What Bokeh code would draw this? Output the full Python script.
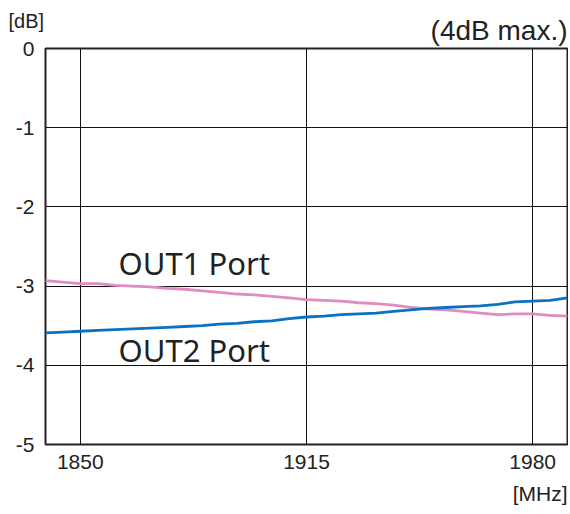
from bokeh.plotting import figure
from bokeh.models import Range1d, FixedTicker, Label, Title
from bokeh.embed import file_html
from bokeh.resources import INLINE

freq = [1840, 1845, 1850, 1855, 1860, 1865, 1870, 1875, 1880, 1885, 1890, 1895, 1900, 1905, 1910,
        1915, 1920, 1925, 1930, 1935, 1940, 1945, 1950, 1955, 1960, 1965, 1970, 1975, 1980, 1985, 1990]
out1 = [-2.93, -2.95, -2.97, -2.97, -2.99, -3.00, -3.01, -3.03, -3.04, -3.06, -3.08, -3.10, -3.11, -3.13, -3.15,
        -3.17, -3.18, -3.19, -3.21, -3.22, -3.24, -3.27, -3.29, -3.30, -3.32, -3.34, -3.36, -3.35, -3.35, -3.37, -3.38]
out2 = [-3.59, -3.58, -3.57, -3.56, -3.55, -3.54, -3.53, -3.52, -3.51, -3.50, -3.48, -3.47, -3.45, -3.44, -3.41,
        -3.39, -3.38, -3.36, -3.35, -3.34, -3.32, -3.30, -3.28, -3.27, -3.26, -3.25, -3.23, -3.20, -3.19, -3.18, -3.15]
x_ticks = [1850, 1915, 1980]
y_ticks = [0, -1, -2, -3, -4, -5]
y_tick_labels = ["0", "-1", "-2", "-3", "-4", "-5"]

FONT = "Liberation Sans"
TXT = "#222222"

p = figure(width=568, height=512, output_backend="svg", toolbar_location=None,
           x_range=Range1d(1840, 1990), y_range=Range1d(-5, 0),
           min_border_left=45, min_border_right=1, min_border_top=48, min_border_bottom=68)
p.outline_line_color = "#222222"
p.outline_line_width = 2
p.background_fill_color = "white"
p.border_fill_color = "white"

p.xaxis.ticker = FixedTicker(ticks=x_ticks)
p.yaxis.ticker = FixedTicker(ticks=y_ticks)
p.yaxis.major_label_overrides = {t: s for t, s in zip(y_ticks, y_tick_labels)}
for ax in (p.xaxis, p.yaxis):
    ax.axis_line_color = None
    ax.major_tick_line_color = None
    ax.minor_tick_line_color = None
    ax.major_tick_out = 0
    ax.major_tick_in = 0
    ax.major_label_text_font = FONT
    ax.major_label_text_font_size = "21px"
    ax.major_label_text_color = TXT
p.xaxis.major_label_standoff = 10
p.yaxis.major_label_standoff = 11

p.xgrid.grid_line_color = "#111111"
p.ygrid.grid_line_color = "#111111"
p.xgrid.grid_line_width = 1
p.ygrid.grid_line_width = 1

p.line(freq, out1, line_color="#e28bc0", line_width=2.8)
p.line(freq, out2, line_color="#0b71c3", line_width=2.8)

p.add_layout(Title(text="(4dB max.)", align="right", vertical_align="top", text_font=FONT,
                   text_font_size="28px", text_font_style="normal", text_color=TXT, standoff=2), "above")
p.add_layout(Title(text="[dB]", align="left", offset=-37, text_font=FONT, text_font_size="20px",
                   text_font_style="normal", text_color=TXT, standoff=-36), "above")
p.add_layout(Title(text="[MHz]", align="right", text_font=FONT, text_font_size="21px",
                   text_font_style="normal", text_color=TXT, standoff=16), "below")

for yv, t in ((-2.71, "OUT1 Port"), (-3.81, "OUT2 Port")):
    p.add_layout(Label(x=1861, y=yv, text=t, text_font="Noto Sans", text_font_size="31px",
                       text_baseline="middle", text_color=TXT))

open("out.html", "w").write(file_html(p, INLINE))
